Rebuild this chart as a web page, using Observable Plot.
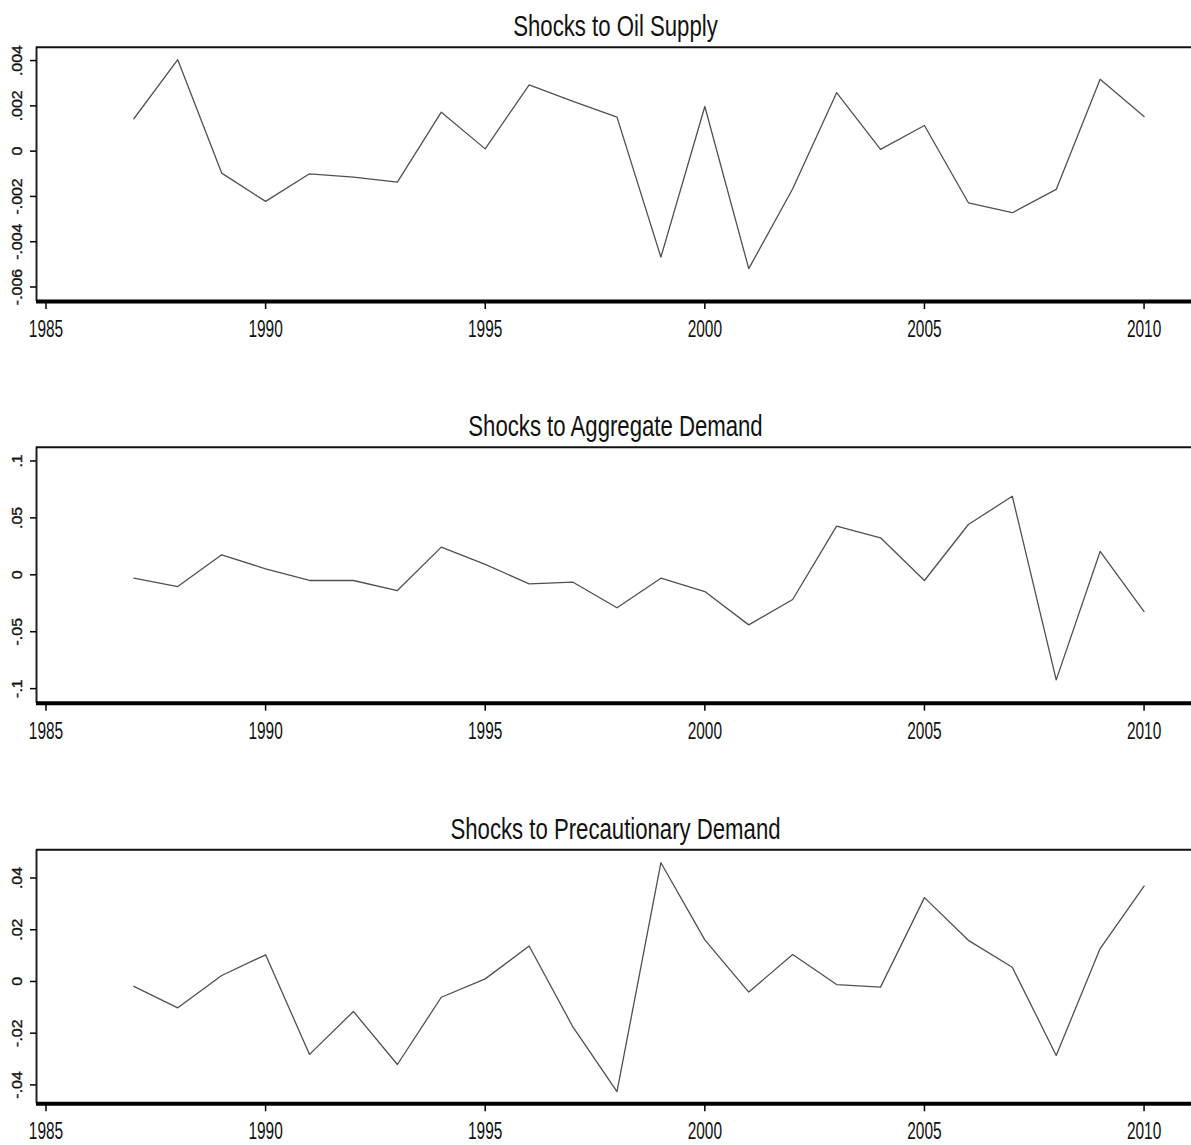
<!DOCTYPE html>
<html>
<head>
<meta charset="utf-8">
<script src="https://cdn.jsdelivr.net/npm/d3@7"></script>
<script src="https://cdn.jsdelivr.net/npm/@observablehq/plot@0.6"></script>
<style>
  html, body { margin: 0; padding: 0; background: #fff; }
  #chart { position: relative; width: 1191px; height: 1145px; overflow: hidden; background: #fff; }
  #chart svg { position: absolute; left: 0; }
</style>
</head>
<body>
<div id="chart"></div>
<script>
// ---- data ----
const years = [1987, 1988, 1989, 1990, 1991, 1992, 1993, 1994, 1995, 1996, 1997, 1998,
               1999, 2000, 2001, 2002, 2003, 2004, 2005, 2006, 2007, 2008, 2009, 2010];
const oilSupply = [0.00143, 0.00404, -0.00097, -0.00222, -0.00100, -0.00115, -0.00137, 0.00172,
                   0.00010, 0.00293, 0.00220, 0.00150, -0.00468, 0.00197, -0.00519, -0.00166,
                   0.00258, 0.00008, 0.00113, -0.00228, -0.00272, -0.00169, 0.00317, 0.00153];
const aggDemand = [-0.0030, -0.0103, 0.0176, 0.0053, -0.0050, -0.0050, -0.0138, 0.0243,
                   0.0091, -0.0079, -0.0065, -0.0290, -0.0030, -0.0147, -0.0440, -0.0217,
                   0.0427, 0.0325, -0.0050, 0.0442, 0.0690, -0.0923, 0.0205, -0.0323];
const precDemand = [-0.0019, -0.0102, 0.0023, 0.0103, -0.0282, -0.0116, -0.0321, -0.0061,
                    0.0010, 0.0137, -0.0177, -0.0426, 0.0459, 0.0161, -0.0041, 0.0104,
                    -0.0012, -0.0022, 0.0324, 0.0159, 0.0055, -0.0286, 0.0127, 0.0369];
const titles = ["Shocks to Oil Supply", "Shocks to Aggregate Demand", "Shocks to Precautionary Demand"];
const xTicks = [1985, 1990, 1995, 2000, 2005, 2010];
const yTicksOil = [0.004, 0.002, 0, -0.002, -0.004, -0.006];
const yTicksAgg = [0.1, 0.05, 0, -0.05, -0.1];
const yTicksPrec = [0.04, 0.02, 0, -0.02, -0.04];

// ---- styling helpers ----
const FAM = "'Liberation Sans Narrow', 'Arial Narrow', 'Liberation Sans', Arial, sans-serif";
const ctx = document.createElement("canvas").getContext("2d");
function measure(text, size) { ctx.font = `${size}px ${FAM}`; return ctx.measureText(text).width; }
const X_SIZE = 23, Y_SIZE = 15.5, T_SIZE = 30;
const sxX = 34.4 / measure("1990", X_SIZE);
const sxY = 31 / measure(".004", Y_SIZE);
const sxT = 204.6 / measure("Shocks to Oil Supply", T_SIZE);

const fmt = d => d === 0 ? "0" : (d < 0 ? "-" : "") + String(Math.abs(d)).replace(/^0/, "");

function squeeze(svg) {
  svg.querySelectorAll("text").forEach(t => {
    const s = t.textContent;
    const sx = titles.includes(s) ? sxT : /^\d{4}$/.test(s) ? sxX : sxY;
    let tr = t.getAttribute("transform");
    if (tr == null) {
      const x = t.getAttribute("x");
      const ok = x != null && !/em/.test(x);
      if (ok) t.removeAttribute("x");
      tr = `translate(${ok ? x : 0},0)`;
    }
    t.setAttribute("transform", tr + ` scale(${sx},1)`);
  });
}

const X_DOMAIN = [1984.784, 2011.08];

function panel({values, title, yTicks, yDomain, top, height, marginTop, marginBottom, titleBaseline}) {
  const data = years.map((year, i) => ({year, v: values[i]}));
  const svg = Plot.plot({
    width: 1191,
    height,
    marginTop,
    marginBottom,
    marginLeft: 36,
    marginRight: 0,
    style: {fontFamily: FAM, background: "#fff", color: "#111", overflow: "visible"},
    x: {domain: X_DOMAIN, axis: null},
    y: {domain: yDomain, axis: null},
    marks: [
      Plot.line(data, {x: "year", y: "v", stroke: "#505050", strokeWidth: 1.3}),
      Plot.ruleX([X_DOMAIN[0]], {stroke: "#222", strokeWidth: 2}),
      Plot.ruleY([yDomain[1]], {stroke: "#111", strokeWidth: 2}),
      Plot.ruleY([yDomain[0]], {stroke: "#000", strokeWidth: 4}),
      Plot.axisX(xTicks, {label: null, tickSize: 8, tickPadding: 11, tickFormat: d => String(d),
                          fontSize: X_SIZE, stroke: "#000", strokeWidth: 1.5, fill: "#111"}),
      Plot.axisY(yTicks, {label: null, tickSize: 6, tickFormat: () => "", stroke: "#000", strokeWidth: 1.5}),
      Plot.text(yTicks, {y: d => d, frameAnchor: "left", dx: -19.2, rotate: -90, text: fmt,
                         textAnchor: "middle", lineAnchor: "middle", fontSize: Y_SIZE,
                         fill: "#111", stroke: "#111", strokeWidth: 0.35}),
      Plot.text([title], {frameAnchor: "top", dx: 1.5, dy: titleBaseline - marginTop, text: d => d,
                          lineAnchor: "bottom", fontSize: T_SIZE, fill: "#111"})
    ]
  });
  squeeze(svg);
  svg.style.top = top + "px";
  document.getElementById("chart").appendChild(svg);
}

panel({values: oilSupply, title: titles[0], yTicks: yTicksOil, yDomain: [-0.00664, 0.00459],
       top: 0, height: 340, marginTop: 46.7, marginBottom: 39, titleBaseline: 35});
panel({values: aggDemand, title: titles[1], yTicks: yTicksAgg, yDomain: [-0.1128, 0.1121],
       top: 400, height: 340, marginTop: 46.7, marginBottom: 37.3, titleBaseline: 35});
panel({values: precDemand, title: titles[2], yTicks: yTicksPrec, yDomain: [-0.0473, 0.0509],
       top: 800, height: 345, marginTop: 49.3, marginBottom: 41.7, titleBaseline: 38.3});
</script>
</body>
</html>
